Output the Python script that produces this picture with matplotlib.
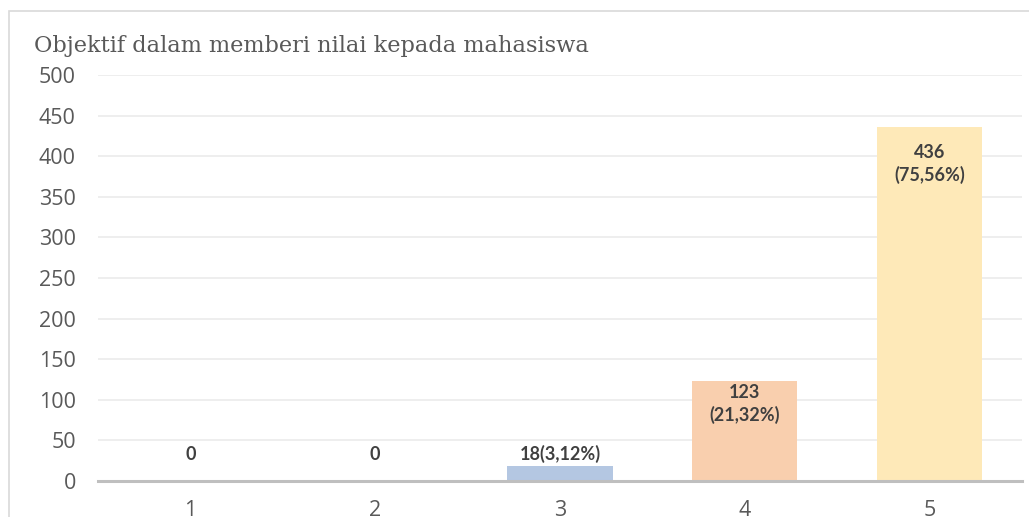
import matplotlib.pyplot as plt
from matplotlib.patches import Rectangle

# data
skor = ['1', '2', '3', '4', '5']
jumlah = [0, 0, 18, 123, 436]
persen = ['', '', '3,12%', '21,32%', '75,56%']
warna = ['#B4C7E7', '#B4C7E7', '#B4C7E2', '#F9CFAE', '#FEE9B8']

W, H = 1029, 517
fig = plt.figure(figsize=(W / 100, H / 100), dpi=100)
fig.patches.append(Rectangle((9 / W, -0.1), 1.1, 1.1 - 11 / H,
                             transform=fig.transFigure, fill=False,
                             edgecolor='#D9D9D9', linewidth=1.2))

# plot area in pixels: x 98..1022, y 75 (500) .. 481 (0)
ax = fig.add_axes([98 / W, 1 - 481 / H, (1022 - 98) / W, (481 - 75) / H])
x = range(len(skor))
ax.bar(x, jumlah, width=0.57, color=warna, zorder=2)
ax.set_xlim(-0.5, 4.5)
ax.set_ylim(0, 500)
ax.set_yticks(range(0, 501, 50))
ax.set_xticks(list(x))
ax.set_xticklabels(skor)
ax.grid(axis='y', color='#EBEBEB', linewidth=1.2, zorder=0)
for s in ['top', 'right', 'left']:
    ax.spines[s].set_visible(False)
ax.spines['bottom'].set_color('#BFBFBF')
ax.spines['bottom'].set_linewidth(2.2)
ax.spines['bottom'].set_zorder(3)
ax.tick_params(length=0, labelsize=15.5, labelcolor='#595959', pad=16)
ax.tick_params(axis='x', pad=14)
for lab in ax.get_xticklabels() + ax.get_yticklabels():
    lab.set_family('Open Sans')

# labels
lab_kw = dict(ha='center', fontsize=13, fontweight='bold', color='#404040',
              family='Lato', zorder=4)
for i, (v, p) in enumerate(zip(jumlah, persen)):
    if v < 50:
        txt = f'{v}({p})' if p else f'{v}'
        ax.text(i, 33, txt, va='center', **lab_kw)
    else:
        off = 3 if v < 200 else 17
        ax.annotate(f'{v}\n({p})', (i, v), xytext=(0, -off * 0.72),
                    textcoords='offset points', va='top',
                    linespacing=1.3, **lab_kw)

fig.text(34 / W, 1 - 52 / H, 'Objektif dalam memberi nilai kepada mahasiswa',
         fontsize=16.2, color='#595959', family='DejaVu Serif', va='baseline')

fig.savefig('out.png', dpi=100)
